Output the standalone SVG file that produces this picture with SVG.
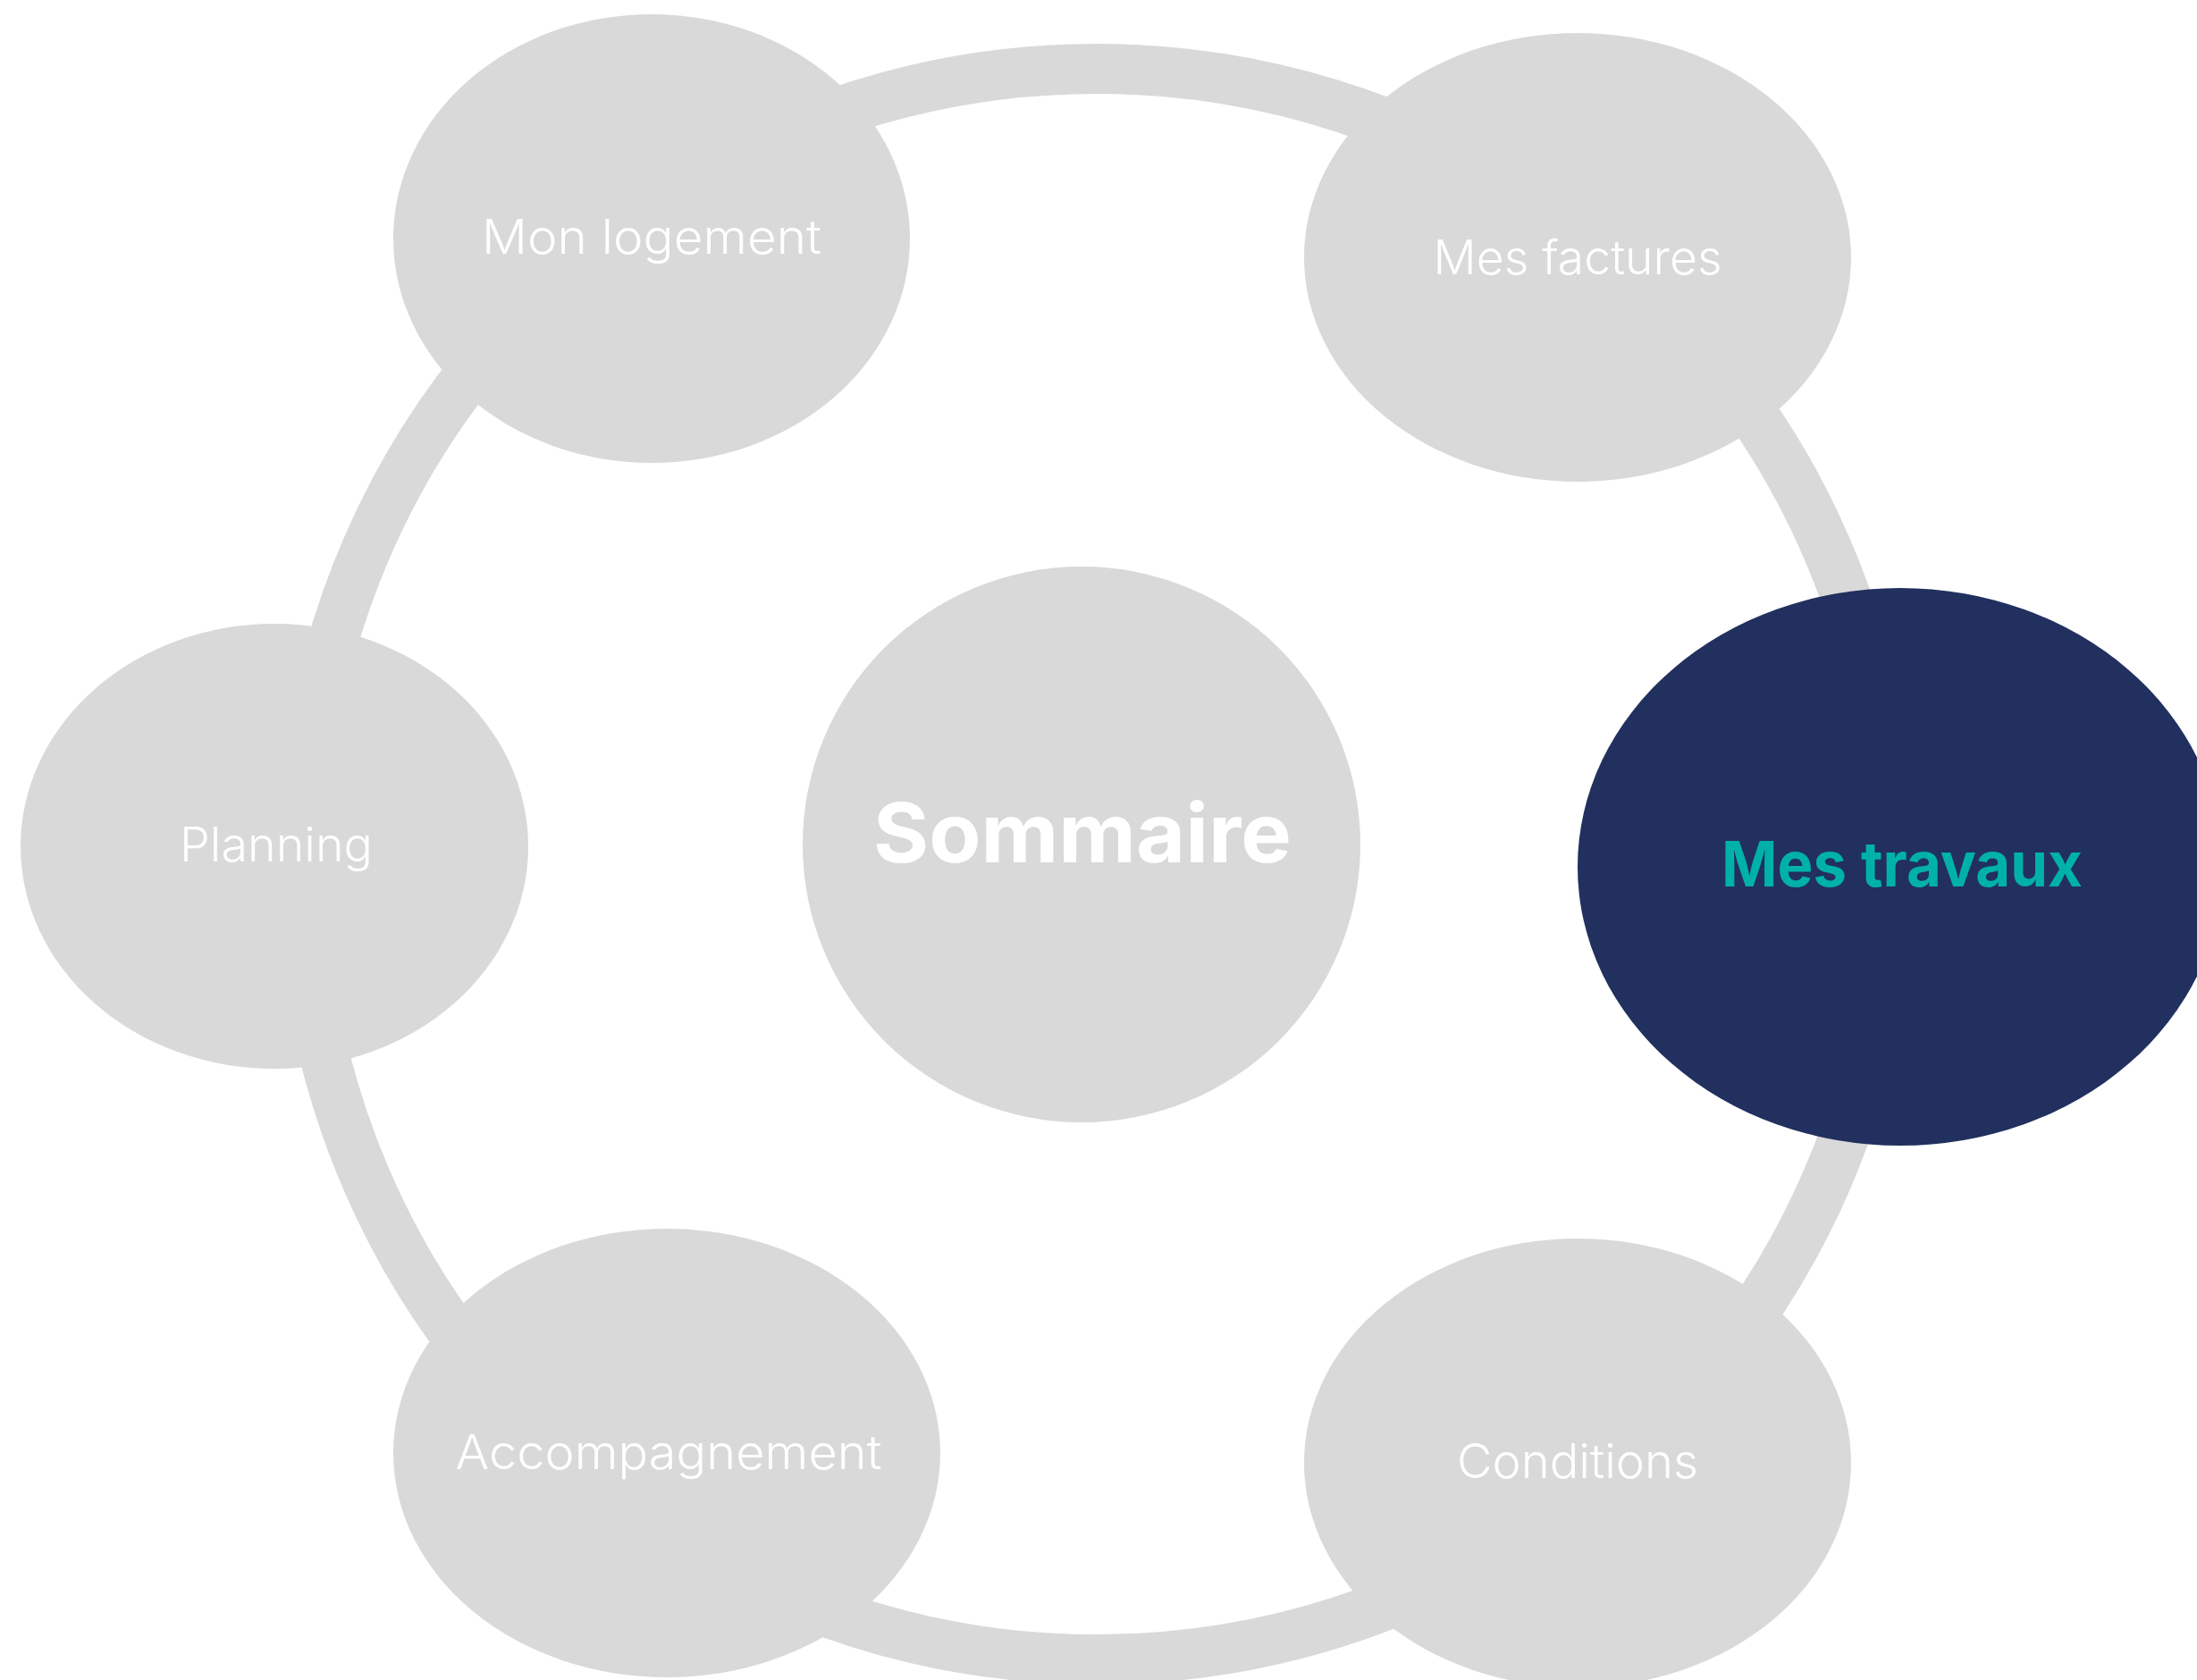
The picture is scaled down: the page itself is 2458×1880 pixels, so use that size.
<svg xmlns="http://www.w3.org/2000/svg" width="2458" height="1880" viewBox="0 0 2458 1880">
<style>
.node{fill:#d9d9d9}
.lbl{font-family:Inter,"Noto Sans","Liberation Sans",sans-serif;font-weight:300;font-size:53px;fill:#ffffff;text-anchor:middle}
.bold{font-family:Inter,"Noto Sans","Liberation Sans",sans-serif;font-weight:700;text-anchor:middle}
.ring{fill:none;stroke:#d9d9d9;stroke-width:56}
</style>
<rect width="2458" height="1880" fill="#ffffff"/>
<g id="connectors">
<circle class="ring" cx="1227" cy="967" r="890"/>
</g>
<g id="node-mon-logement">
<ellipse class="node" cx="729" cy="267" rx="289" ry="251"/>
<text class="lbl" x="729" y="284" textLength="380" lengthAdjust="spacingAndGlyphs">Mon logement</text>
</g>
<g id="node-mes-factures">
<ellipse class="node" cx="1765" cy="288" rx="306" ry="251"/>
<text class="lbl" x="1765" y="307" textLength="323" lengthAdjust="spacingAndGlyphs">Mes factures</text>
</g>
<g id="node-planning">
<ellipse class="node" cx="307" cy="947" rx="284" ry="249"/>
<text class="lbl" x="309" y="964" textLength="216" lengthAdjust="spacingAndGlyphs">Planning</text>
</g>
<g id="node-sommaire">
<ellipse class="node" cx="1210" cy="945" rx="312" ry="311"/>
<text class="bold" x="1211" y="965" font-size="92" fill="#ffffff" textLength="468" lengthAdjust="spacingAndGlyphs">Sommaire</text>
</g>
<g id="node-mes-travaux">
<ellipse cx="2126" cy="970" rx="361" ry="312" fill="#21305e"/>
<text class="bold" x="2128" y="992" font-size="70" fill="#00b1aa" textLength="404" lengthAdjust="spacingAndGlyphs">Mes travaux</text>
</g>
<g id="node-accompagnement">
<ellipse class="node" cx="746" cy="1626" rx="306" ry="251"/>
<text class="lbl" x="748" y="1644" textLength="477" lengthAdjust="spacingAndGlyphs">Accompagnement</text>
</g>
<g id="node-conditions">
<ellipse class="node" cx="1765" cy="1637" rx="306" ry="251"/>
<text class="lbl" x="1765" y="1654" textLength="270" lengthAdjust="spacingAndGlyphs">Conditions</text>
</g>
</svg>
